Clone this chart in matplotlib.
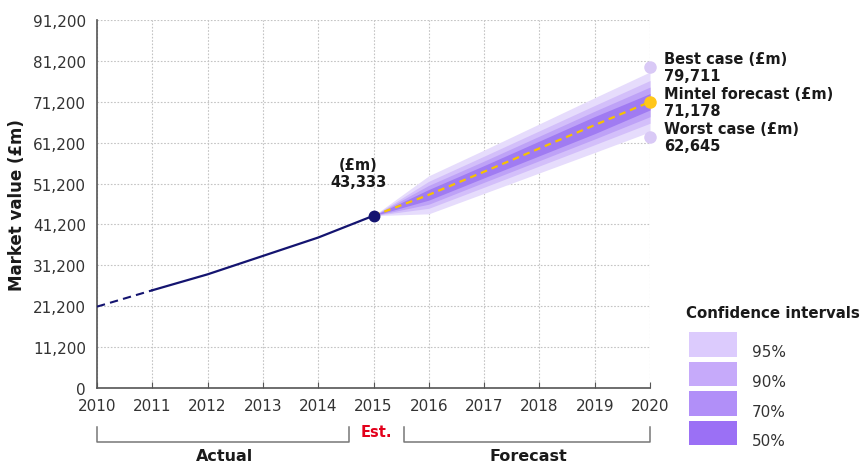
import matplotlib
matplotlib.use("Agg")
import matplotlib.pyplot as plt
import matplotlib.transforms as mtransforms
from matplotlib.patches import Rectangle

# ---- data ----
years_actual = [2010, 2011, 2012, 2013, 2014, 2015]
actual = [21100, 25100, 29000, 33500, 38000, 43333]

years_fc = [2015, 2016, 2017, 2018, 2019, 2020]
forecast = [43333, 48450, 54100, 59800, 65500, 71178]

ci95_lo = [43333, 43800, 48800, 53800, 58800, 63850]
ci95_hi = [43333, 53100, 59400, 65800, 72200, 78500]
ci90_lo = [43333, 45150, 50300, 55500, 60700, 65950]
ci90_hi = [43333, 51750, 57900, 64100, 70300, 76400]
ci70_lo = [43333, 46150, 51500, 56800, 62100, 67550]
ci70_hi = [43333, 50750, 56700, 62800, 68900, 74800]
ci50_lo = [43333, 47150, 52600, 58000, 63400, 69200]
ci50_hi = [43333, 49750, 55600, 61600, 67600, 73200]

best_case = 79711
worst_case = 62645

y_ticks = [1200, 11200, 21200, 31200, 41200, 51200, 61200, 71200, 81200, 91200]
y_labels = ["0", "11,200", "21,200", "31,200", "41,200", "51,200", "61,200",
            "71,200", "81,200", "91,200"]
x_ticks = list(range(2010, 2021))

ci_names = ["95%", "90%", "70%", "50%"]
ci_cols = ["#DCCBFD", "#C6AAFA", "#B18FF8", "#9B70F5"]      # legend swatches
band_cols = ["#E6DCFC", "#D3BFFA", "#BEA2F7", "#A07BF2"]    # fan in the plot (a bit paler)

NAVY = "#141470"
GOLD = "#F7C200"
INK = "#1A1A1A"
TICK = "#333333"

W, H = 863, 464
def fx(px): return px / W
def fy(py): return 1 - py / H

fig = plt.figure(figsize=(W / 100, H / 100), dpi=100)
fig.patch.set_facecolor("white")
ax = fig.add_axes([fx(97), fy(389), fx(650) - fx(97), fy(21) - fy(389)])

# fan bands
bands = [(ci95_lo, ci95_hi), (ci90_lo, ci90_hi), (ci70_lo, ci70_hi), (ci50_lo, ci50_hi)]
for (lo, hi), c in zip(bands, band_cols):
    ax.fill_between(years_fc, lo, hi, color=c, lw=0, zorder=2)

# actual line: dashed first year, solid after
ax.plot(years_actual[:2], actual[:2], color=NAVY, lw=1.5, ls=(0, (4, 2.5)), zorder=3)
ax.plot(years_actual[1:], actual[1:], color=NAVY, lw=1.6, zorder=3)
ax.plot([years_actual[-1]], [actual[-1]], "o", color=NAVY, ms=7.5, zorder=5, clip_on=False)

# forecast line
ax.plot(years_fc, forecast, color=GOLD, lw=1.6, ls=(0, (3, 2.2)), zorder=4)
ax.plot([2020], [forecast[-1]], "o", color="#FFC61A", ms=8, zorder=5, clip_on=False)
ax.plot([2020, 2020], [best_case, worst_case], "o", color="#D9C9F6", ms=8, lw=0,
        zorder=5, clip_on=False)

# axes styling
ax.set_xlim(2010, 2020)
ax.set_ylim(1200, 91200)
ax.set_xticks(x_ticks)
ax.set_xticklabels([str(y) for y in x_ticks])
ax.set_yticks(y_ticks)
ax.set_yticklabels(y_labels)
ax.grid(True, color="#C4C4C4", ls=(0, (1.5, 1.5)), lw=0.8, zorder=0)
ax.set_axisbelow(True)
for s in ["top", "right"]:
    ax.spines[s].set_visible(False)
for s in ["left", "bottom"]:
    ax.spines[s].set_color("#555555")
    ax.spines[s].set_linewidth(1.2)
ax.tick_params(axis="x", direction="in", length=4, color="#555555", pad=7,
               labelsize=11, labelcolor=TICK)
ax.tick_params(axis="y", length=0, pad=8, labelsize=11, labelcolor=TICK)

# annotations
ax.annotate("(£m)\n43,333", xy=(2015, actual[-1]), xytext=(-11, 19),
            textcoords="offset points", ha="center", va="bottom",
            fontsize=10.5, fontweight="bold", color=INK, linespacing=1.2)
for val, head, num in [(best_case, "Best case (£m)", "79,711"),
                       (forecast[-1], "Mintel forecast (£m)", "71,178"),
                       (worst_case, "Worst case (£m)", "62,645")]:
    ax.annotate(f"{head}\n{num}", xy=(2020, val), xytext=(10, 0),
                textcoords="offset points", ha="left", va="center",
                fontsize=10.5, fontweight="bold", color=INK, linespacing=1.15,
                annotation_clip=False)

fig.text(fx(17), fy(205), "Market value (£m)", rotation=90, ha="center", va="center",
         fontsize=12, fontweight="bold", color=INK)

# brackets under x axis
trans = mtransforms.blended_transform_factory(ax.transData, fig.transFigure)
br_top, br_bot = fy(428), fy(443)
for x0, x1 in [(2010, 2014.55), (2015.55, 2020)]:
    ax.plot([x0, x0, x1, x1], [br_top, br_bot, br_bot, br_top], color="#777777",
            lw=1.1, transform=trans, clip_on=False)
ax.text(2015.05, fy(433), "Est.", transform=trans, ha="center", va="center",
        fontsize=10.5, fontweight="bold", color="#E3001B")
ax.text(2012.3, fy(457), "Actual", transform=trans, ha="center", va="center",
        fontsize=11.5, fontweight="bold", color=INK)
ax.text(2017.8, fy(457), "Forecast", transform=trans, ha="center", va="center",
        fontsize=11.5, fontweight="bold", color=INK)

# legend for confidence intervals
fig.text(fx(686), fy(318), "Confidence intervals", ha="left", va="baseline",
         fontsize=10.8, fontweight="bold", color=INK)
for i, (name, c) in enumerate(zip(ci_names, ci_cols)):
    top = 333 + i * 29.6
    fig.add_artist(Rectangle((fx(689), fy(top + 24.5)), fx(737) - fx(689),
                             fy(top) - fy(top + 24.5), transform=fig.transFigure,
                             fc=c, ec="none"))
    fig.text(fx(752), fy(top + 24.5), name, ha="left", va="baseline",
             fontsize=11, color=TICK)

fig.savefig("out.png", dpi=100, facecolor="white")
